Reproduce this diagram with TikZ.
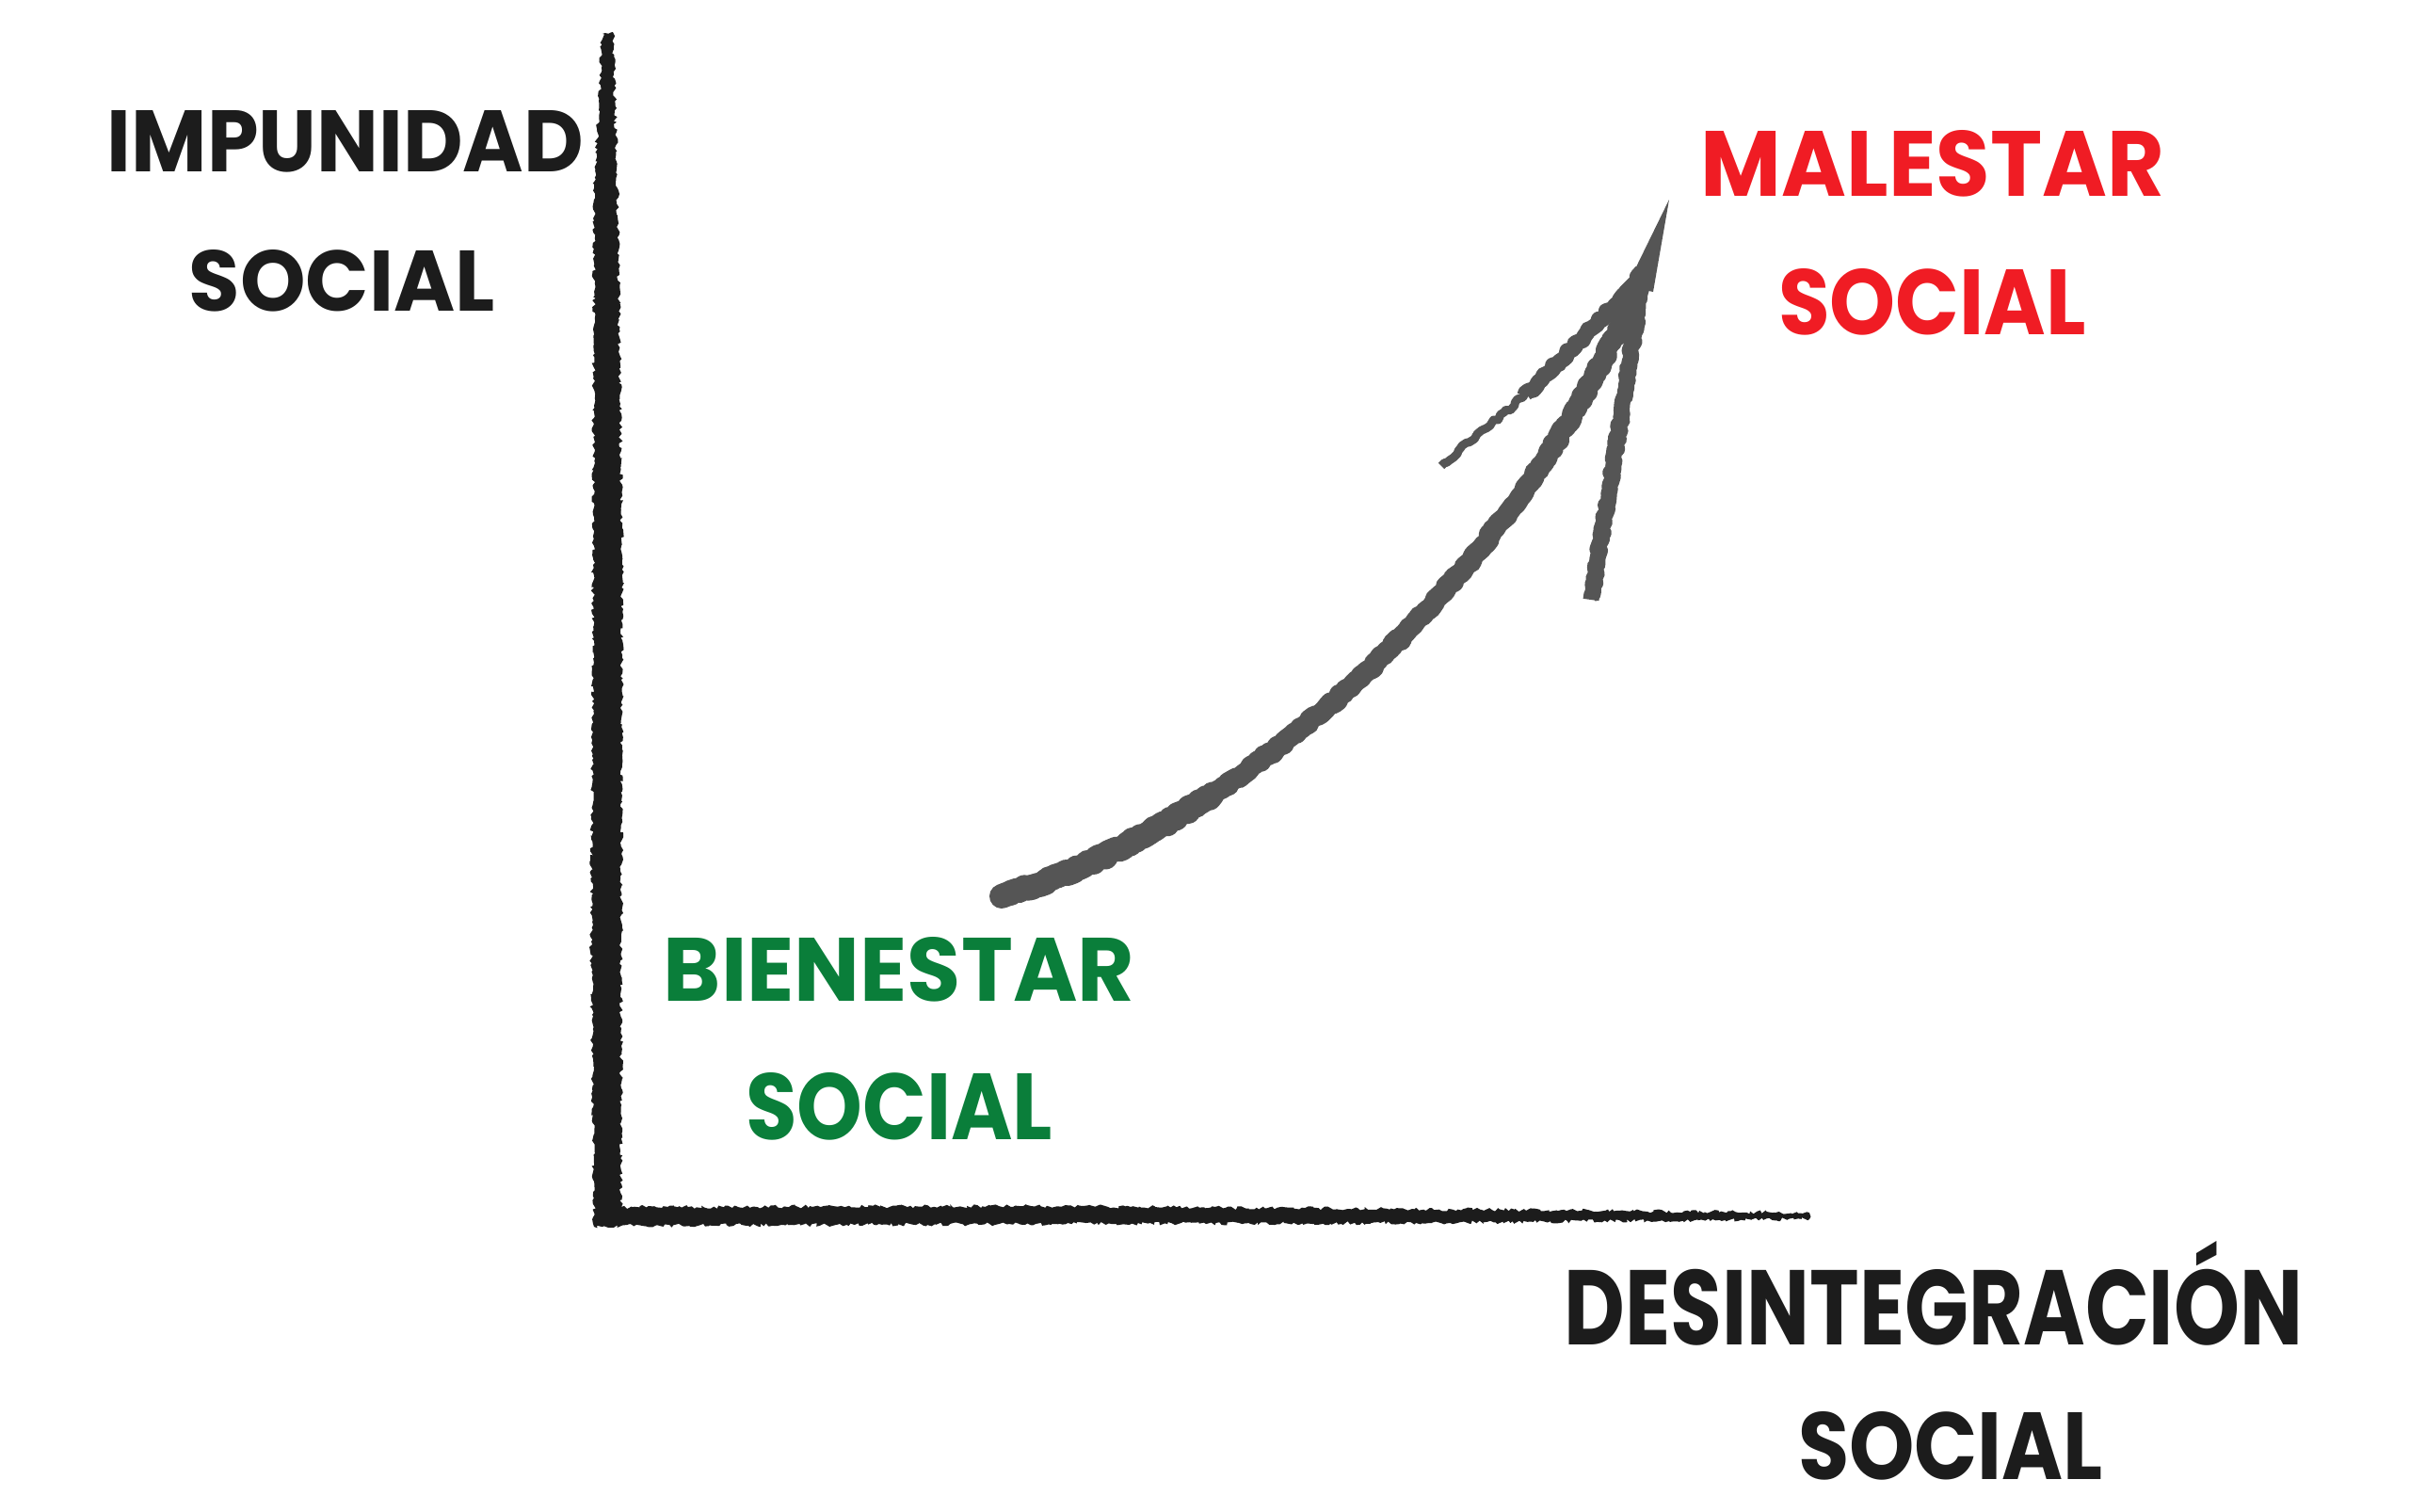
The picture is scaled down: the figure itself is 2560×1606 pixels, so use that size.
\documentclass[tikz,border=0pt]{standalone}
\usepackage{fontspec}
\setmainfont{Poppins}
\usepackage{graphicx}
\usetikzlibrary{decorations.pathmorphing}
\definecolor{axisink}{RGB}{28,28,28}
\definecolor{arrowink}{RGB}{85,85,85}
\definecolor{malred}{RGB}{240,28,36}
\definecolor{biengreen}{RGB}{10,126,58}
\newcommand\fitlbl[3]{\resizebox{#1pt}{#2pt}{\bfseries #3}}
\begin{document}
\begin{tikzpicture}[x=1pt,y=-1pt,
  lbl/.style={inner sep=0pt, outer sep=0pt, anchor=center},
  rough/.style={decorate, decoration={random steps, segment length=3pt, amplitude=2pt}},
  roughline/.style={decorate, decoration={random steps, segment length=4pt, amplitude=2pt}},
  arrowstroke/.style={draw=arrowink, line join=round, roughline}]
\pgfmathsetseed{7}
\useasboundingbox (0,0) rectangle (2560,1606);
\fill[white] (0,0) rectangle (2560,1606);

% axes
\fill[axisink, rough] (640,36) -- (651,34) -- (656,200) -- (661,600) -- (660,1000) -- (660,1282)
  -- (1100,1281) -- (1500,1284) -- (1922,1288) -- (1922,1295) -- (1500,1299) -- (1100,1300)
  -- (660,1302) -- (631,1303) -- (628,1000) -- (630,600) -- (631,200) -- cycle;

% labels
\node[lbl, text=axisink] (impunidad) at (367,150.5) {\fitlbl{506}{65}{IMPUNIDAD}};
\node[lbl, text=axisink] (socialk) at (363.5,298.5) {\fitlbl{325}{65}{SOCIAL}};
\node[lbl, text=malred] (malestar) at (2053,174) {\fitlbl{492}{70}{MALESTAR}};
\node[lbl, text=malred] (socialr) at (2052.5,321) {\fitlbl{327}{70}{SOCIAL}};
\node[lbl, text=biengreen] (bienestar) at (955,1030) {\fitlbl{500}{68}{BIENESTAR}};
\node[lbl, text=biengreen] (socialg) at (955,1175.5) {\fitlbl{326}{71}{SOCIAL}};
\node[lbl, text=axisink] (desint) at (2054,1374) {\fitlbl{784}{110}{DESINTEGRACIÓN}};
\node[lbl, text=axisink] (socialb) at (2072,1536) {\fitlbl{324}{72}{SOCIAL}};

% arrow
\coordinate (arrstart) at (1064,952);
\coordinate (arrmid) at (1287.8,843.5);
\coordinate (arrend) at (1745,292);
\coordinate (arrtip) at (1773,212);
\coordinate (barbl) at (1531,495);
\coordinate (barbr) at (1690,637);
\draw[arrowstroke, line width=22pt] (arrstart) .. controls (1300,880) and (1600,640) .. (arrend);
\draw[arrowstroke, line width=26pt, line cap=round] (arrstart) .. controls (1134.8,930.4) and (1211.4,893.7) .. (arrmid);
\draw[arrowstroke, line width=9pt] (barbl) .. controls (1570,460) and (1600,440) .. (1640,400);
\draw[arrowstroke, line width=17pt] (1620,420) .. controls (1680,360) and (1710,330) .. (arrend);
\draw[arrowstroke, line width=17pt] (barbr) .. controls (1705,540) and (1730,400) .. (arrend);
\fill[arrowink] (1728,304) -- (arrtip) -- (1756,310) -- cycle;
\end{tikzpicture}
\end{document}
